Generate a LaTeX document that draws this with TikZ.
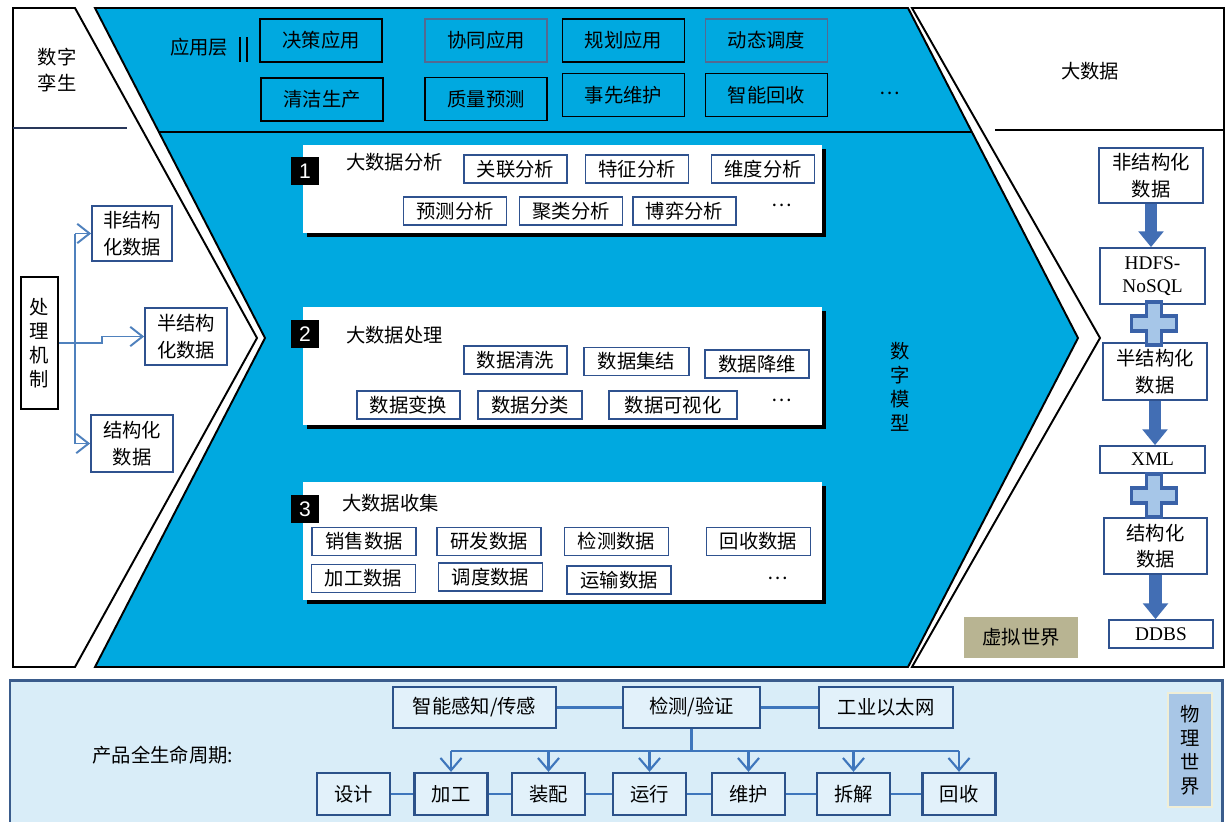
\documentclass[tikz,border=0pt]{standalone}
\usepackage{fontspec}
\setmainfont{Noto Sans CJK SC}
\newfontfamily\latinserif{Liberation Serif}
\newfontfamily\latinsans{Liberation Sans}
\usetikzlibrary{arrows.meta,calc,shadows}
\definecolor{twinblue}{RGB}{0,169,224}
\definecolor{softframe}{RGB}{85,105,145}
\definecolor{frameblue}{RGB}{47,82,143}
\definecolor{flowblue}{RGB}{79,129,189}
\definecolor{arrowblue}{RGB}{66,110,180}
\definecolor{plusfill}{RGB}{166,198,232}
\definecolor{plusframe}{RGB}{58,98,168}
\definecolor{khaki}{RGB}{184,180,146}
\definecolor{bandfill}{RGB}{217,237,248}
\definecolor{bandframe}{RGB}{58,92,140}
\definecolor{lifefill}{RGB}{226,241,250}
\definecolor{lifeframe}{RGB}{44,82,138}
\definecolor{lifeblue}{RGB}{62,118,188}
\definecolor{physfill}{RGB}{168,198,230}
\definecolor{physframe}{RGB}{240,238,214}
\definecolor{navyline}{RGB}{40,55,90}
\tikzset{
  shapeline/.style={draw=black, line width=1.1pt},
  boxsize/.style 2 args={minimum width=#1*0.02cm, minimum height=#2*0.02cm},
  appbox/.style={draw=black, line width=1.1pt, boxsize={122}{43}, inner sep=0pt},
  appboxsoft/.style={appbox, draw=softframe},
  panel/.style={fill=white, minimum width=10.38cm, inner sep=0pt,
    general shadow={fill=black, shadow xshift=0.08cm, shadow yshift=-0.08cm}},
  marker/.style={fill=black, text=white, minimum size=0.56cm, inner sep=0pt,
    font=\latinsans\fontsize{12}{12}\selectfont},
  subbox/.style={draw=frameblue, fill=white, line width=0.8pt, boxsize={#1}{28}, inner sep=0pt},
  databox/.style={draw=frameblue, fill=white, line width=1pt, inner sep=0pt, align=center,
    font=\fontsize{11}{15}\selectfont},
  serifbox/.style={databox, font=\latinserif\fontsize{11}{13}\selectfont},
  flowline/.style={draw=flowblue, line width=1.1pt},
  flowarrow/.style={flowline, -{Straight Barb[length=7pt,width=11pt]}},
  bigarrow/.style={draw=arrowblue, line width=7pt, -{Triangle[width=14pt,length=9pt]}},
  plusstyle/.style={fill=plusfill, draw=plusframe, line width=1.8pt},
  plussign/.pic={
    \draw[plusstyle] (-7.5,-21.5) -- (7.5,-21.5) -- (7.5,-7.5) -- (22.5,-7.5) -- (22.5,7.5)
      -- (7.5,7.5) -- (7.5,21.5) -- (-7.5,21.5) -- (-7.5,7.5) -- (-22.5,7.5) -- (-22.5,-7.5)
      -- (-7.5,-7.5) -- cycle;
  },
  lifebox/.style={draw=lifeframe, fill=lifefill, line width=1.3pt, inner sep=0pt},
  lifeline/.style={draw=lifeblue, line width=1.2pt},
  lifearrow/.style={lifeline, -{Straight Barb[length=7pt,width=12pt]}},
  vtext/.style={align=center, font=\fontsize{11}{13.6}\selectfont}
}
\begin{document}
\begin{tikzpicture}[x=0.02cm, y=-0.02cm, line join=miter,
  every node/.style={font=\fontsize{11}{14}\selectfont}]
\useasboundingbox (0,0) rectangle (1226,821);

% big shapes
\draw[shapeline, fill=white] (13,8) -- (75,8) -- (257,338) -- (75,667) -- (13,667) -- cycle;
\draw[shapeline, fill=twinblue] (95,8) -- (908,8) -- (1078,338) -- (908,667) -- (95,667) -- (265,338) -- cycle;
\draw[shapeline, fill=white] (912,8) -- (1224,8) -- (1224,667) -- (912,667) -- (1100,338) -- cycle;
\draw[line width=1.1pt, draw=navyline] (13,128) -- (127,128);
\draw[shapeline] (159,132) -- (972,132);
\draw[shapeline] (995,130) -- (1224,130);

% physical band
\draw[line width=1.7pt, draw=bandframe, fill=bandfill] (10,680) rectangle (1222,830);

% left column
\node[align=center, font=\fontsize{11}{15}\selectfont] (twin) at (57,70) {数字\\孪生};
\node[draw=black, line width=1.1pt, boxsize={37}{132}, inner sep=0pt, vtext] (proc) at (39.5,343) {处\\理\\机\\制};
\node[databox, boxsize={80}{55}] (unstruct) at (132,233.5) {非结构\\化数据};
\node[databox, boxsize={82}{57}] (semi) at (186,336.5) {半结构\\化数据};
\node[databox, boxsize={82}{57}] (struct) at (132,443.5) {结构化\\数据};
\coordinate (trunk) at (75,0);
\draw[flowline] (unstruct.west -| trunk) -- (struct.west -| trunk);
\draw[flowarrow] (unstruct.west -| trunk) -- (unstruct.west);
\draw[flowarrow] (struct.west -| trunk) -- (struct.west);
\draw[flowarrow] (proc.east) -- ++(43,0) |- (semi.west);

% application layer
\node (layer) at (199,47) {应用层};
\draw[line width=1.3pt] (240,37) -- (240,62) (247,37) -- (247,62);
\foreach \t/\x/\y/\s [count=\i] in {决策应用/321/40.5/appbox, 协同应用/486/40.5/appboxsoft,
    规划应用/623.5/40.5/appbox, 动态调度/766.5/40.5/appboxsoft, 清洁生产/322/99.5/appbox,
    质量预测/486/99/appbox, 事先维护/623.5/95/appbox, 智能回收/766.5/95/appbox}
  \node[\s] (app\i) at (\x,\y) {\t};
\node (appdots) at (890,93) {…};

% big data panels
\node[panel, minimum height=1.76cm] (pan1) at (562.5,189) {};
\node[panel, minimum height=2.36cm] (pan2) at (562.5,366) {};
\node[panel, minimum height=2.36cm] (pan3) at (562.5,541) {};
\node[marker] (mk1) at (305,171) {1};
\node[marker] (mk2) at (305,334) {2};
\node[marker] (mk3) at (305,509) {3};
\node[anchor=west] (ttl1) at (340,162) {大数据分析};
\node[anchor=west] (ttl2) at (340,335) {大数据处理};
\node[anchor=west] (ttl3) at (336,503) {大数据收集};
\foreach \t/\x/\y [count=\i] in {关联分析/515.5/169, 特征分析/637/169, 维度分析/763/169,
    预测分析/455/211, 聚类分析/571/211, 博弈分析/684.5/211}
  \node[subbox=103] (ana\i) at (\x,\y) {\t};
\node (dots1) at (782,205) {…};
\foreach \t/\x/\y/\w [count=\i] in {数据清洗/515.5/360/103, 数据集结/636.5/361.5/105,
    数据降维/757/364/104, 数据变换/408.5/405/103, 数据分类/530/405/104, 数据可视化/673/405/128}
  \node[subbox=\w] (proc\i) at (\x,\y) {\t};
\node (dots2) at (782,400) {…};
\foreach \t/\x/\y [count=\i] in {销售数据/364/541.5, 研发数据/489/541.5, 检测数据/616.5/541.5,
    回收数据/758.5/541.5, 加工数据/363.5/578.5, 调度数据/490.5/577, 运输数据/619/580}
  \node[subbox=104] (col\i) at (\x,\y) {\t};
\node (dots3) at (778,578) {…};
\node[vtext] (model) at (900,387) {数\\字\\模\\型};

% big data column
\node (bigdata) at (1090,71) {大数据};
\node[databox, boxsize={104}{55}] (rs1) at (1151,175.5) {非结构化\\数据};
\node[serifbox, boxsize={105}{56}] (hdfs) at (1152.5,276) {HDFS-\\NoSQL};
\node[databox, boxsize={104}{57}] (rs2) at (1155,371.5) {半结构化\\数据};
\node[serifbox, boxsize={105}{27}] (xml) at (1152.5,459.5) {XML};
\node[databox, boxsize={103}{56}] (rs3) at (1155.5,546) {结构化\\数据};
\node[serifbox, boxsize={104}{28}] (ddbs) at (1161,634) {DDBS};
\draw[bigarrow] (rs1.south) -- (rs1.south |- hdfs.north);
\draw[bigarrow] (rs2.south) -- (rs2.south |- xml.north);
\draw[bigarrow] (rs3.south) -- (rs3.south |- ddbs.north);
\pic at ($(hdfs.south)!0.5!(rs2.north)$) {plussign};
\pic at ($(xml.south)!0.5!(rs3.north)$) {plussign};
\node[fill=khaki, boxsize={114}{41}, inner sep=0pt] (virtual) at (1021,637.5) {虚拟世界};

% product life cycle
\node (cycle) at (163,755) {产品全生命周期:};
\node[lifebox, boxsize={163}{41}] (sense) at (474.5,707.5) {智能感知/传感};
\node[lifebox, boxsize={137}{41}] (check) at (691.5,707.5) {检测/验证};
\node[lifebox, boxsize={134}{41}] (ether) at (886,707.5) {工业以太网};
\foreach \t/\x/\n in {设计/353.5/design, 加工/451/make, 装配/548.5/assem, 运行/649.5/run,
    维护/748.5/maint, 拆解/853.5/disas, 回收/959/recyc}
  \node[lifebox, boxsize={73}{42}] (\n) at (\x,794) {\t};
\node[fill=physfill, draw=physframe, line width=1.2pt, boxsize={44}{114}, inner sep=0pt, vtext] (phys) at (1190,750) {物\\理\\世\\界};
\draw[lifeline] (sense) -- (check);
\draw[lifeline] (check) -- (ether);
\coordinate (branch) at ($(check.south)+(0,22)$);
\draw[lifeline] (check.south) -- (branch);
\draw[lifeline] (branch -| make.north) -- (branch -| recyc.north);
\foreach \n in {make,assem,run,maint,disas,recyc}
  \draw[lifearrow] (branch -| \n.north) -- (\n.north);
\foreach \a/\b in {design/make, make/assem, assem/run, run/maint, maint/disas, disas/recyc}
  \draw[lifeline] (\a) -- (\b);
\end{tikzpicture}
\end{document}
